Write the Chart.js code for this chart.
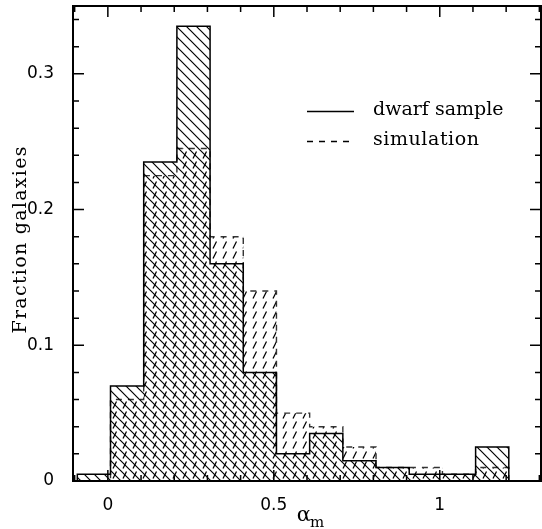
<!DOCTYPE html>
<html>
<head>
<meta charset="utf-8">
<script src="https://cdn.jsdelivr.net/npm/chart.js@4.4.1/dist/chart.umd.min.js"></script>
<style>
    html, body { margin: 0; padding: 0; background: #fff; }
    #wrap { width: 542px; height: 529px; }
</style>
</head>
<body>
<div id="wrap"><canvas id="histChart"></canvas></div>
<script>
// Histogram bin edges (alpha_m) and fractions
const binEdges = [-0.092, 0.008, 0.108, 0.208, 0.308, 0.408, 0.508, 0.608, 0.708, 0.808, 0.908, 1.008, 1.108, 1.208];
const dwarfSample = [0.005, 0.07, 0.235, 0.335, 0.16, 0.08, 0.02, 0.035, 0.015, 0.01, 0.005, 0.005, 0.025];
const simulation = [0, 0.06, 0.225, 0.245, 0.18, 0.14, 0.05, 0.04, 0.025, 0.01, 0.01, 0.005, 0.01];

const xTicks = [0, 0.5, 1];
const xTickLabels = ["0", "0.5", "1"];
const yTicks = [0, 0.1, 0.2, 0.3];
const yTickLabels = ["0", "0.1", "0.2", "0.3"];
const seriesLabels = ["dwarf sample", "simulation"];
const yTitle = "Fraction galaxies";

// turn bin values into a closed step outline
function stepPoints(values) {
    const pts = [{x: binEdges[0], y: 0}];
    values.forEach((v, i) => pts.push({x: binEdges[i], y: v}));
    pts.push({x: binEdges[binEdges.length - 1], y: 0});
    return pts;
}

// small tiles used as hatch fills
function hatch(draw) {
    const c = document.createElement("canvas");
    c.width = 10;
    c.height = 10;
    const g = c.getContext("2d");
    g.strokeStyle = "#000";
    g.lineWidth = 1.2;
    g.beginPath();
    draw(g);
    g.stroke();
    return g.createPattern(c, "repeat");
}
const backslashHatch = hatch(g => {
    g.moveTo(-2, -2); g.lineTo(12, 12);
    g.moveTo(-2, 8); g.lineTo(2, 12);
    g.moveTo(8, -2); g.lineTo(12, 2);
});
const slashHatch = hatch(g => {
    g.moveTo(3, 8.5); g.lineTo(6.5, 1.5);
});

function spacedText(ctx, text, x, y, width) {
    // stretch the letter spacing so the text spans the given width
    ctx.letterSpacing = "0px";
    const w = ctx.measureText(text).width;
    ctx.letterSpacing = Math.max(0, (width - w) / (text.length - 1)) + "px";
    ctx.fillText(text, x, y);
    ctx.letterSpacing = "0px";
}

const framePlugin = {
    id: "frame",
    afterDraw(chart) {
        const {ctx, chartArea: a, scales: {x, y}} = chart;
        ctx.save();
        ctx.strokeStyle = "#000";
        ctx.fillStyle = "#000";

        // box
        ctx.lineWidth = 2;
        ctx.strokeRect(a.left, a.top, a.right - a.left, a.bottom - a.top);

        // inward ticks on all four sides
        ctx.lineWidth = 1.5;
        ctx.beginPath();
        for (let k = -1; k <= 13; k++) {
            const px = x.getPixelForValue(k / 10);
            if (px < a.left + 1 || px > a.right - 1) continue;
            const len = k % 5 === 0 ? 11 : 6;
            ctx.moveTo(px, a.bottom); ctx.lineTo(px, a.bottom - len);
            ctx.moveTo(px, a.top); ctx.lineTo(px, a.top + len);
        }
        for (let k = 1; k <= 17; k++) {
            const py = y.getPixelForValue(k * 0.02);
            if (py < a.top + 1) continue;
            const len = k % 5 === 0 ? 11 : 6;
            ctx.moveTo(a.left, py); ctx.lineTo(a.left + len, py);
            ctx.moveTo(a.right, py); ctx.lineTo(a.right - len, py);
        }
        ctx.stroke();

        // legend
        const lx0 = x.getPixelForValue(0.6), lx1 = lx0 + 47;
        ctx.lineWidth = 1.3;
        ctx.beginPath();
        ctx.moveTo(lx0, 111.5); ctx.lineTo(lx1, 111.5);
        ctx.stroke();
        ctx.setLineDash([6, 6]);
        ctx.beginPath();
        ctx.moveTo(lx0, 141.5); ctx.lineTo(lx1, 141.5);
        ctx.stroke();
        ctx.setLineDash([]);
        ctx.font = "19px 'DejaVu Serif'";
        ctx.textAlign = "left";
        ctx.textBaseline = "alphabetic";
        spacedText(ctx, seriesLabels[0], lx1 + 19, 115, 130);
        spacedText(ctx, seriesLabels[1], lx1 + 19, 145, 106);

        // y title
        ctx.save();
        ctx.translate(21, (a.top + a.bottom) / 2 - 3);
        ctx.rotate(-Math.PI / 2);
        ctx.font = "19px 'DejaVu Serif'";
        ctx.textAlign = "left";
        ctx.textBaseline = "middle";
        spacedText(ctx, yTitle, -93, 0, 187);
        ctx.restore();

        // x title: alpha with subscript m
        const cx = (a.left + a.right) / 2;
        ctx.font = "21px 'DejaVu Serif'";
        const wa = ctx.measureText("α").width;
        ctx.font = "15px 'DejaVu Serif'";
        const wm = ctx.measureText("m").width;
        const start = cx - (wa + wm) / 2 + 4;
        ctx.font = "21px 'DejaVu Serif'";
        ctx.fillText("α", start, 520.5);
        ctx.font = "15px 'DejaVu Serif'";
        ctx.fillText("m", start + wa - 1, 527);
        ctx.restore();
    }
};

const tickFont = {family: "'DejaVu Sans'", size: 17};

// drop the edge padding Chart.js reserves for end labels
function noPadding(s) {
    s.paddingTop = 0;
    s.paddingBottom = 0;
    s.paddingLeft = 0;
    s.paddingRight = 0;
}

new Chart(document.getElementById("histChart"), {
    type: "line",
    data: {
        datasets: [{
            label: seriesLabels[0],
            data: stepPoints(dwarfSample),
            stepped: true,
            borderColor: "#000",
            borderWidth: 1.5,
            backgroundColor: backslashHatch,
            fill: "origin",
            pointRadius: 0,
        }, {
            label: seriesLabels[1],
            data: stepPoints(simulation),
            stepped: true,
            borderColor: "#333",
            borderWidth: 1.4,
            borderDash: [6, 6],
            backgroundColor: slashHatch,
            fill: "origin",
            pointRadius: 0,
        }]
    },
    options: {
        responsive: true,
        maintainAspectRatio: false,
        animation: false,
        layout: {padding: {top: 6, right: 1, left: 0, bottom: 0}},
        plugins: {legend: {display: false}, tooltip: {enabled: false}},
        scales: {
            x: {
                type: "linear",
                min: -0.105,
                max: 1.305,
                grid: {display: false},
                border: {display: false},
                afterFit: s => { s.height = 48; noPadding(s); },
                afterBuildTicks: s => { s.ticks = xTicks.map(v => ({value: v})); },
                ticks: {
                    padding: 6,
                    maxRotation: 0,
                    color: "#000",
                    font: tickFont,
                    callback: (v, i) => xTickLabels[i],
                },
            },
            y: {
                type: "linear",
                min: 0,
                max: 0.35,
                grid: {display: false},
                border: {display: false},
                afterFit: s => { s.width = 73; noPadding(s); },
                afterBuildTicks: s => { s.ticks = yTicks.map(v => ({value: v})); },
                ticks: {
                    padding: 11,
                    color: "#000",
                    font: tickFont,
                    callback: (v, i) => yTickLabels[i],
                },
            },
        },
    },
    plugins: [framePlugin],
});
</script>
</body>
</html>
